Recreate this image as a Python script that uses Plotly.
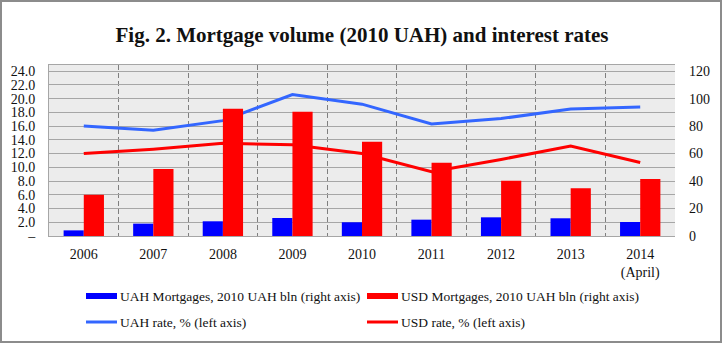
import plotly.graph_objects as go

# Data
years = ["2006", "2007", "2008", "2009", "2010", "2011", "2012", "2013", "2014"]
year_labels = ["2006", "2007", "2008", "2009", "2010", "2011", "2012", "2013", "2014<br>(April)"]
uah_mortgages = [4.1, 9.0, 10.7, 13.1, 10.0, 11.9, 13.6, 12.9, 10.2]      # 2010 UAH bln, right axis
usd_mortgages = [30.0, 48.7, 92.6, 90.4, 68.6, 53.3, 40.2, 34.7, 41.5]    # 2010 UAH bln, right axis
uah_rate = [16.0, 15.4, 16.8, 20.6, 19.2, 16.3, 17.1, 18.5, 18.8]         # %, left axis
usd_rate = [12.0, 12.65, 13.5, 13.3, 12.0, 9.35, 11.15, 13.1, 10.7]       # %, left axis

left_ticks = [0, 2, 4, 6, 8, 10, 12, 14, 16, 18, 20, 22, 24]
left_ticktext = ["–"] + [f"{v:.1f}" for v in left_ticks[1:]]
right_ticks = [0, 20, 40, 60, 80, 100, 120]

W, H = 722, 343
ML, MR, MT, MB = 49, 47, 65, 107
PW, PH = W - ML - MR, H - MT - MB

FONT = "Liberation Serif, DejaVu Serif, serif"
TEXT = "#111111"
BLUE_BAR = "#0000FF"
RED = "#FF0000"
BLUE_LINE = "#3366FF"


def px_x(p):
    return (p - ML) / PW


def px_y(p):
    return (H - MB - p) / PH


fig = go.Figure()
fig.add_trace(go.Bar(x=years, y=uah_mortgages, name="UAH Mortgages, 2010 UAH bln (right axis)",
                     marker=dict(color=BLUE_BAR, line=dict(width=0)), yaxis="y2"))
fig.add_trace(go.Bar(x=years, y=usd_mortgages, name="USD Mortgages, 2010 UAH bln (right axis)",
                     marker=dict(color=RED, line=dict(width=0)), yaxis="y2"))
fig.add_trace(go.Scatter(x=years, y=uah_rate, name="UAH rate, % (left axis)", mode="lines",
                         line=dict(color=BLUE_LINE, width=3)))
fig.add_trace(go.Scatter(x=years, y=usd_rate, name="USD rate, % (left axis)", mode="lines",
                         line=dict(color=RED, width=3)))

fig.update_layout(
    width=W, height=H,
    margin=dict(l=ML, r=MR, t=MT, b=MB),
    paper_bgcolor="white",
    plot_bgcolor="#ECECEC",
    showlegend=False,
    barmode="group",
    bargap=0.42,
    bargroupgap=0,
    font=dict(family=FONT, size=14, color=TEXT),
    title=dict(text="<b>Fig. 2. Mortgage volume (2010 UAH) and interest rates</b>",
               x=0.5, xref="paper", xanchor="center",
               y=1 - 35 / H, yanchor="middle",
               font=dict(family=FONT, size=21, color=TEXT)),
    xaxis=dict(
        type="category", categoryorder="array", categoryarray=years,
        tickvals=years, ticktext=year_labels,
        tickson="boundaries", ticks="",
        showgrid=True, gridcolor="#7F7F7F", griddash="5px,3px", gridwidth=1,
        showline=True, linecolor="#A6A6A6", linewidth=1, mirror=True,
        range=[-0.5, 8.5], ticklabelstandoff=5,
        zeroline=False,
    ),
    yaxis=dict(
        range=[0, 24.9], tickvals=left_ticks, ticktext=left_ticktext,
        showgrid=True, gridcolor="#A6A6A6", gridwidth=1,
        showline=True, linecolor="#A6A6A6", linewidth=1,
        ticks="", ticklabelstandoff=10, zeroline=False,
    ),
    yaxis2=dict(
        range=[0, 124.5], tickvals=right_ticks, ticktext=[str(v) for v in right_ticks],
        overlaying="y", side="right", showgrid=False, showline=False,
        ticks="", ticklabelstandoff=13, zeroline=False,
    ),
)

# Legend drawn as two columns of keys and labels
legend_rows = [
    (296, "rect", BLUE_BAR, "UAH Mortgages, 2010 UAH bln (right axis)", 86),
    (296, "rect", RED, "USD Mortgages, 2010 UAH bln (right axis)", 367),
    (322, "line", BLUE_LINE, "UAH rate, % (left axis)", 86),
    (322, "line", RED, "USD rate, % (left axis)", 367),
]
for ypx, kind, color, label, x0 in legend_rows:
    if kind == "rect":
        fig.add_shape(type="rect", xref="paper", yref="paper",
                      x0=px_x(x0), x1=px_x(x0 + 31), y0=px_y(ypx - 3), y1=px_y(ypx + 3),
                      fillcolor=color, line=dict(width=0))
    else:
        fig.add_shape(type="line", xref="paper", yref="paper",
                      x0=px_x(x0), x1=px_x(x0 + 31), y0=px_y(ypx), y1=px_y(ypx),
                      line=dict(color=color, width=3))
    fig.add_annotation(text=label, xref="paper", yref="paper",
                       x=px_x(x0 + 32), y=px_y(ypx), xanchor="left", yanchor="middle",
                       showarrow=False, font=dict(family=FONT, size=13.5, color=TEXT))

# Outer chart frame
fig.add_shape(type="rect", xref="paper", yref="paper",
              x0=px_x(1), x1=px_x(W - 1), y0=px_y(H - 1), y1=px_y(1),
              line=dict(color="#8C8C8C", width=2), fillcolor="rgba(0,0,0,0)", layer="above")

fig.write_html("out.html")
